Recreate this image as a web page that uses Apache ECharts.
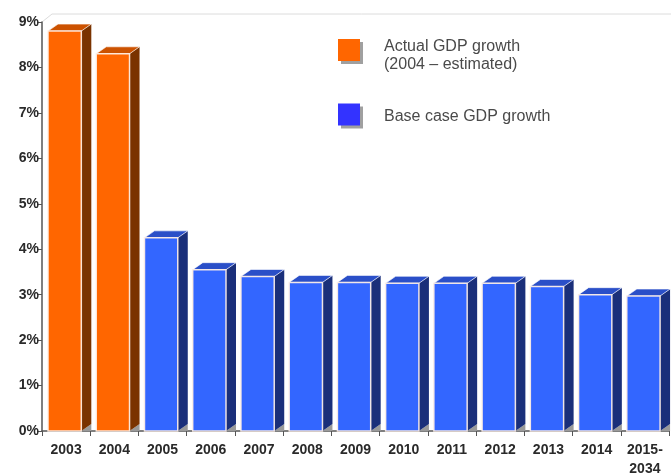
<!DOCTYPE html>
<html>
<head>
<meta charset="utf-8">
<script src="https://cdn.jsdelivr.net/npm/echarts@6/dist/echarts.min.js"></script>
<style>
html,body{margin:0;padding:0;background:#fff;}
#chart{width:671px;height:476px;}
</style>
</head>
<body>
<div id="chart"></div>
<script>
const categories = ['2003','2004','2005','2006','2007','2008','2009','2010','2011','2012','2013','2014','2015-\n2034'];
const actualIdx = [0, 1];
const actualValues = [8.8, 8.3];
const baseIdx = [2,3,4,5,6,7,8,9,10,11,12];
const baseValues = [4.25, 3.55, 3.4, 3.27, 3.27, 3.25, 3.25, 3.25, 3.18, 3.0, 2.97];
const yTicks = [0,1,2,3,4,5,6,7,8,9];
const actualName = 'Actual GDP growth\n(2004 \u2013 estimated)';
const baseName = 'Base case GDP growth';

const chart = echarts.init(document.getElementById('chart'), null, {renderer:'canvas'});
const FONT = 'Liberation Sans, Arial, Helvetica, sans-serif';

function makeRender(front, side, top) {
  return function (params, api) {
    const x = api.value(0), v = api.value(1);
    const c = api.coord([x, v]);
    const b = api.coord([x, 0]);
    const bw = api.size([1, 0])[0];
    const x0 = c[0] - bw / 2 + bw * 0.125;
    const x1 = x0 + bw * 0.69;
    const dx = 10, dy = 7;
    const yt = c[1], yb = b[1];
    return {
      type: 'group',
      children: [
        { type: 'polygon', shape: { points: [[x1, yb], [x1 + dx, yb - dy], [x1 + dx, yb]] },
          style: { fill: '#9a9a9a' } },
        { type: 'polygon', shape: { points: [[x1, yt], [x1 + dx, yt - dy], [x1 + dx, yb - dy], [x1, yb]] },
          style: { fill: side } },
        { type: 'polygon', shape: { points: [[x0, yt], [x0 + dx, yt - dy], [x1 + dx, yt - dy], [x1, yt]] },
          style: { fill: top, stroke: 'rgba(255,255,255,0.6)', lineWidth: 1 } },
        { type: 'rect', shape: { x: x0, y: yt, width: x1 - x0, height: yb - yt },
          style: { fill: front, stroke: 'rgba(255,240,230,0.9)', lineWidth: 1.5 } }
      ]
    };
  };
}

const option = {
  animation: false,
  backgroundColor: '#fff',
  grid: { left: 42, right: 2, top: 22, bottom: 45, containLabel: false, outerBoundsMode: 'none' },
  legend: {
    orient: 'vertical',
    left: 338, top: 26,
    padding: 0,
    itemWidth: 22, itemHeight: 22,
    itemGap: 29,
    icon: 'rect',
    itemStyle: { shadowColor: '#a0a0a0', shadowOffsetX: 3, shadowOffsetY: 3, shadowBlur: 0 },
    formatter: function (name) {
      return name.split('\n').length > 1
        ? '{b| }\n' + name.split('\n').map(function (s) { return '{a|' + s + '}'; }).join('\n')
        : '{c| }\n{a|' + name + '}';
    },
    textStyle: {
      fontFamily: FONT, fontSize: 16, color: '#4a4a4a', lineHeight: 18, padding: [0, 0, 0, 19],
      rich: {
        a: { fontFamily: FONT, fontSize: 16, color: '#4a4a4a', lineHeight: 18 },
        b: { fontSize: 6, lineHeight: 12 },
        c: { fontSize: 4, lineHeight: 5 }
      }
    },
    data: [
      { name: actualName, itemStyle: { color: '#FF6600' } },
      { name: baseName, itemStyle: { color: '#3333FF' } }
    ]
  },
  xAxis: {
    type: 'category',
    data: categories,
    axisLine: { lineStyle: { color: '#555', width: 1.5 } },
    axisTick: { show: true, alignWithLabel: false, length: 5, lineStyle: { color: '#555' } },
    axisLabel: { color: '#2a2a2a', fontWeight: 'bold', fontSize: 14, fontFamily: FONT, margin: 10, lineHeight: 19, interval: 0 },
    splitLine: { show: false }
  },
  yAxis: {
    type: 'value',
    min: 0, max: 9, interval: 1,
    axisLine: { show: true, lineStyle: { color: '#555', width: 1.5 } },
    axisTick: { show: true, length: 5, lineStyle: { color: '#555' } },
    axisLabel: { color: '#2a2a2a', fontWeight: 'bold', fontSize: 14, fontFamily: FONT, margin: 3,
      formatter: function (v) { return yTicks.indexOf(v) >= 0 ? v + '%' : ''; } },
    splitLine: { show: false }
  },
  graphic: [
    { type: 'polyline', silent: true, z: -1, shape: { points: [[42, 22], [52, 14], [671, 14]] },
      style: { stroke: '#dcdcdc', lineWidth: 1, fill: null } }
  ],
  series: [
    { name: actualName, type: 'custom', itemStyle: { color: '#FF6600' },
      renderItem: makeRender('#FF6600', '#7A3300', '#CC5200'),
      data: actualIdx.map((i, k) => [i, actualValues[k]]) },
    { name: baseName, type: 'custom', itemStyle: { color: '#3333FF' },
      renderItem: makeRender('#3366FF', '#1A2F7A', '#2A4FC8'),
      data: baseIdx.map((i, k) => [i, baseValues[k]]) }
  ]
};
chart.setOption(option);
</script>
</body>
</html>
